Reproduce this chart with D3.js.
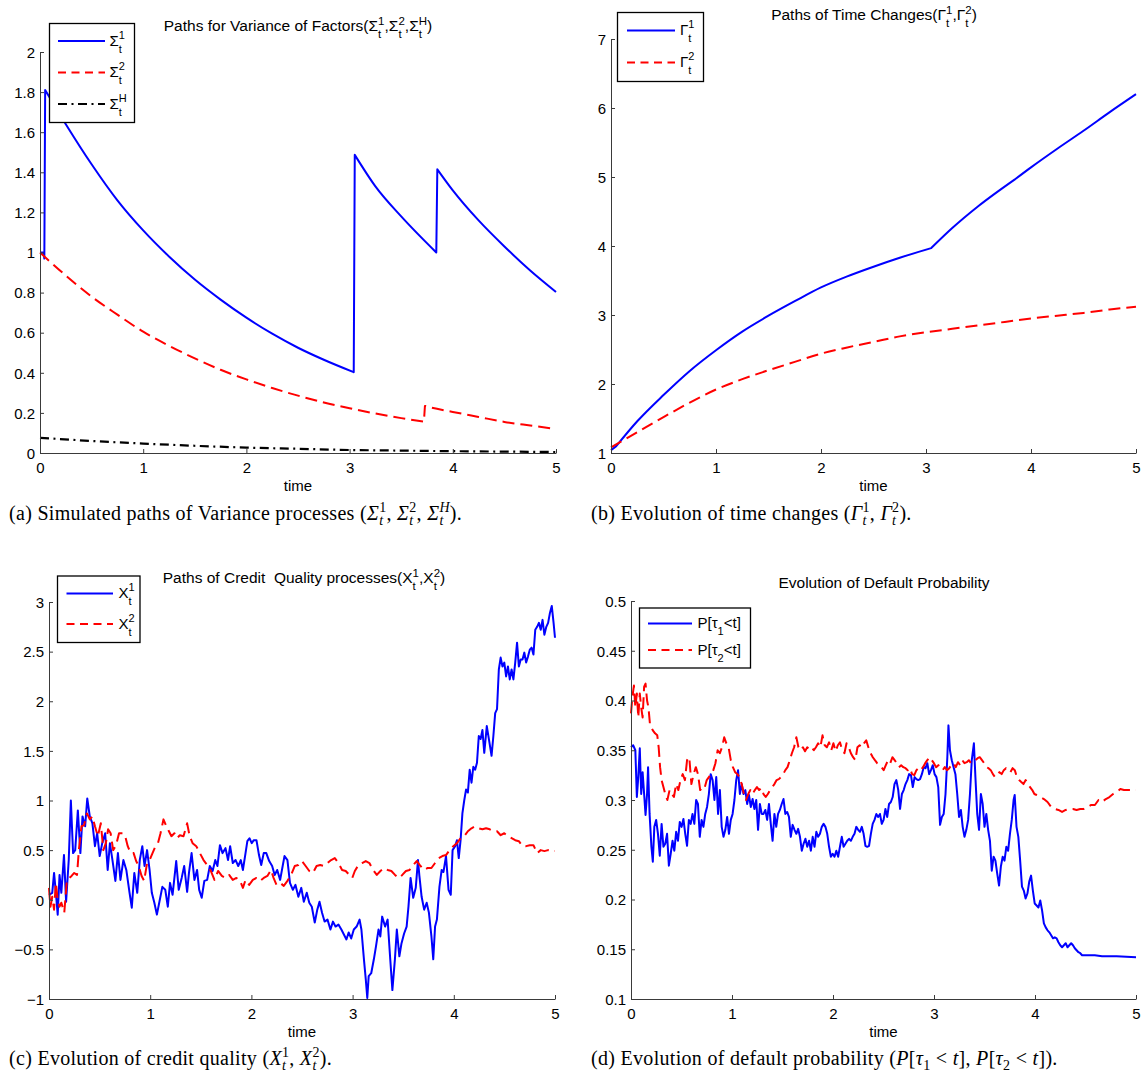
<!DOCTYPE html>
<html><head><meta charset="utf-8">
<script src="https://cdn.jsdelivr.net/npm/d3@7"></script>
<style>
html,body{margin:0;padding:0;background:#fff;}
svg{display:block;}
text{white-space:pre;}
</style></head><body>
<svg id="fig" width="1142" height="1074"></svg>
<script>
// ---------------- DATA ----------------
const xTicks = [0, 1, 2, 3, 4, 5];
const aYTicks = [0, 0.2, 0.4, 0.6, 0.8, 1, 1.2, 1.4, 1.6, 1.8, 2];
const bYTicks = [1, 2, 3, 4, 5, 6, 7];
const cYTicks = [-1, -0.5, 0, 0.5, 1, 1.5, 2, 2.5, 3];
const dYTicks = [0.1, 0.15, 0.2, 0.25, 0.3, 0.35, 0.4, 0.45, 0.5];

// (a) variance processes  [time, value]
const sigma1 = [[0,1.0],[0.035,1.0],[0.042,0.97],[0.05,1.81],[0.25,1.64],[0.5,1.44],[0.75,1.26],[1.0,1.11],[1.25,0.98],[1.5,0.865],[1.75,0.765],[2.0,0.675],[2.25,0.595],[2.5,0.525],[2.75,0.465],[3.04,0.403],[3.05,1.487],[3.25,1.33],[3.5,1.18],[3.84,1.0],[3.85,1.415],[4.0,1.31],[4.25,1.16],[4.5,1.03],[4.75,0.91],[5.0,0.803]];
const sigma2 = [[0,1.0],[0.25,0.885],[0.5,0.78],[0.75,0.69],[1.0,0.605],[1.25,0.535],[1.5,0.472],[1.75,0.415],[2.0,0.367],[2.25,0.324],[2.5,0.286],[2.75,0.252],[3.0,0.223],[3.25,0.197],[3.5,0.174],[3.72,0.156],[3.73,0.235],[3.75,0.232],[4.0,0.205],[4.25,0.18],[4.5,0.155],[4.75,0.137],[5.0,0.12]];
const sigmaH = [[0,0.076],[0.5,0.06],[1,0.047],[1.5,0.036],[2,0.027],[2.5,0.021],[3,0.015],[3.5,0.012],[4,0.009],[4.5,0.007],[5,0.005]];

// (b) time changes
const gamma1 = [[0,1.04],[0.05,1.1],[0.25,1.46],[0.5,1.84],[0.75,2.19],[1.0,2.49],[1.25,2.76],[1.5,2.99],[1.75,3.2],[2.0,3.4],[2.25,3.56],[2.5,3.7],[2.75,3.83],[3.05,3.97],[3.25,4.26],[3.5,4.58],[3.85,4.97],[4.0,5.14],[4.25,5.41],[4.5,5.67],[4.75,5.94],[5.0,6.2]];
const gamma1Kinks = [0.05, 3.05, 3.85];
const gamma2 = [[0,1.08],[0.25,1.3],[0.5,1.52],[0.75,1.73],[1.0,1.92],[1.25,2.07],[1.5,2.2],[1.75,2.32],[2.0,2.44],[2.25,2.53],[2.5,2.61],[2.75,2.69],[3.0,2.75],[3.25,2.8],[3.5,2.85],[3.75,2.9],[4.0,2.95],[4.25,2.99],[4.5,3.03],[4.75,3.08],[5.0,3.12]];

// (c) credit quality
const credit1 = [[0,0.05],[0.032,0.07],[0.05,0.27],[0.068,0.07],[0.086,-0.15],[0.104,0.25],[0.122,0.07],[0.148,0.45],[0.169,-0.02],[0.195,0.40],[0.216,1.00],[0.238,0.47],[0.259,0.50],[0.285,0.90],[0.31,0.47],[0.331,0.84],[0.357,0.74],[0.378,1.02],[0.403,0.84],[0.429,0.77],[0.454,0.54],[0.476,0.67],[0.501,0.44],[0.526,0.57],[0.555,0.67],[0.58,0.30],[0.602,0.57],[0.627,0.40],[0.656,0.19],[0.681,0.47],[0.706,0.20],[0.735,0.40],[0.764,0.30],[0.796,0.07],[0.818,-0.08],[0.843,0.27],[0.872,0.07],[0.897,0.40],[0.922,0.54],[0.944,0.34],[0.969,0.50],[0.994,0.30],[1.016,0.07],[1.041,-0.03],[1.066,-0.15],[1.095,0.00],[1.12,0.13],[1.149,0.10],[1.174,-0.07],[1.196,0.17],[1.221,0.05],[1.257,0.39],[1.282,0.10],[1.311,0.22],[1.336,0.34],[1.365,0.08],[1.383,0.27],[1.409,0.47],[1.437,0.20],[1.463,0.30],[1.484,0.10],[1.509,0.02],[1.535,0.19],[1.563,0.20],[1.589,0.34],[1.617,0.29],[1.643,0.40],[1.664,0.34],[1.689,0.55],[1.715,0.47],[1.744,0.52],[1.769,0.40],[1.79,0.54],[1.816,0.37],[1.844,0.40],[1.87,0.34],[1.895,0.40],[1.916,0.30],[1.942,0.47],[1.96,0.59],[1.981,0.62],[2.003,0.57],[2.024,0.60],[2.05,0.60],[2.075,0.45],[2.097,0.35],[2.122,0.47],[2.147,0.47],[2.176,0.39],[2.205,0.34],[2.23,0.25],[2.255,0.30],[2.284,0.20],[2.309,0.34],[2.327,0.44],[2.356,0.40],[2.381,0.17],[2.41,0.10],[2.435,0.15],[2.464,0.03],[2.493,0.12],[2.518,-0.02],[2.547,0.07],[2.572,-0.03],[2.597,-0.07],[2.626,-0.23],[2.651,-0.10],[2.673,-0.02],[2.698,-0.13],[2.723,-0.22],[2.752,-0.20],[2.781,-0.30],[2.806,-0.22],[2.831,-0.27],[2.86,-0.25],[2.889,-0.30],[2.914,-0.35],[2.939,-0.40],[2.961,-0.33],[2.986,-0.39],[3.012,-0.30],[3.04,-0.27],[3.069,-0.20],[3.087,-0.30],[3.112,-0.60],[3.13,-0.80],[3.145,-0.99],[3.159,-0.77],[3.184,-0.74],[3.21,-0.60],[3.231,-0.47],[3.256,-0.30],[3.274,-0.37],[3.292,-0.17],[3.321,-0.27],[3.346,-0.20],[3.372,-0.60],[3.393,-0.91],[3.418,-0.60],[3.437,-0.30],[3.462,-0.57],[3.483,-0.44],[3.509,-0.34],[3.534,-0.27],[3.552,-0.07],[3.573,0.22],[3.599,0.02],[3.624,0.12],[3.646,0.40],[3.66,0.24],[3.682,0.03],[3.707,-0.10],[3.732,-0.03],[3.754,-0.13],[3.779,-0.37],[3.797,-0.60],[3.815,-0.27],[3.833,-0.20],[3.858,0.13],[3.88,0.30],[3.898,0.28],[3.923,0.44],[3.948,0.10],[3.97,0.05],[3.988,0.50],[4.013,0.54],[4.031,0.60],[4.049,0.42],[4.067,0.60],[4.085,0.87],[4.103,1.00],[4.121,1.11],[4.139,1.08],[4.157,1.31],[4.175,1.18],[4.193,1.34],[4.211,1.31],[4.229,1.38],[4.247,1.65],[4.265,1.62],[4.283,1.71],[4.301,1.48],[4.326,1.75],[4.348,1.61],[4.373,1.45],[4.391,1.65],[4.409,1.88],[4.427,1.92],[4.445,2.32],[4.463,2.44],[4.481,2.35],[4.499,2.39],[4.517,2.25],[4.535,2.35],[4.553,2.22],[4.571,2.32],[4.589,2.22],[4.607,2.39],[4.625,2.59],[4.643,2.35],[4.661,2.42],[4.679,2.42],[4.697,2.49],[4.715,2.39],[4.733,2.45],[4.751,2.52],[4.769,2.54],[4.787,2.47],[4.805,2.72],[4.823,2.75],[4.841,2.79],[4.859,2.72],[4.877,2.82],[4.895,2.67],[4.914,2.75],[4.932,2.79],[4.95,2.89],[4.968,2.96],[4.986,2.79],[5.0,2.64]];
const credit2 = [[0,0.12],[0.014,-0.07],[0.032,0.03],[0.05,-0.10],[0.068,0.17],[0.086,0.00],[0.104,-0.07],[0.122,-0.03],[0.151,-0.13],[0.177,0.20],[0.202,0.22],[0.223,0.24],[0.249,0.27],[0.277,0.25],[0.295,0.50],[0.321,0.74],[0.346,0.75],[0.375,0.87],[0.403,0.81],[0.429,0.84],[0.454,0.74],[0.483,0.64],[0.512,0.77],[0.537,0.50],[0.562,0.57],[0.584,0.71],[0.609,0.67],[0.634,0.50],[0.663,0.55],[0.692,0.67],[0.728,0.67],[0.753,0.64],[0.778,0.54],[0.807,0.47],[0.836,0.47],[0.861,0.39],[0.886,0.34],[0.915,0.24],[0.94,0.19],[0.969,0.37],[0.994,0.40],[1.023,0.47],[1.052,0.54],[1.077,0.57],[1.102,0.67],[1.131,0.81],[1.16,0.74],[1.185,0.69],[1.21,0.64],[1.239,0.67],[1.264,0.62],[1.293,0.65],[1.329,0.64],[1.365,0.77],[1.39,0.64],[1.419,0.57],[1.455,0.54],[1.491,0.47],[1.527,0.40],[1.563,0.35],[1.599,0.29],[1.635,0.20],[1.671,0.29],[1.708,0.24],[1.744,0.22],[1.78,0.25],[1.816,0.20],[1.852,0.22],[1.888,0.19],[1.916,0.12],[1.942,0.20],[1.978,0.15],[2.014,0.20],[2.05,0.22],[2.086,0.19],[2.122,0.22],[2.158,0.24],[2.194,0.30],[2.219,0.22],[2.248,0.15],[2.284,0.17],[2.32,0.14],[2.356,0.19],[2.392,0.25],[2.428,0.34],[2.464,0.35],[2.5,0.39],[2.536,0.34],[2.572,0.29],[2.608,0.27],[2.644,0.34],[2.68,0.35],[2.716,0.34],[2.752,0.37],[2.788,0.40],[2.824,0.42],[2.86,0.37],[2.896,0.30],[2.932,0.29],[2.968,0.25],[2.997,0.22],[3.022,0.29],[3.058,0.35],[3.094,0.37],[3.13,0.39],[3.166,0.37],[3.202,0.30],[3.239,0.25],[3.275,0.29],[3.311,0.32],[3.347,0.30],[3.383,0.29],[3.419,0.25],[3.455,0.22],[3.491,0.25],[3.527,0.29],[3.563,0.30],[3.599,0.35],[3.635,0.39],[3.671,0.34],[3.707,0.30],[3.743,0.32],[3.779,0.32],[3.815,0.37],[3.851,0.42],[3.887,0.44],[3.923,0.45],[3.959,0.50],[3.995,0.54],[4.031,0.57],[4.067,0.62],[4.103,0.64],[4.139,0.69],[4.175,0.72],[4.211,0.74],[4.247,0.72],[4.283,0.71],[4.319,0.72],[4.355,0.71],[4.391,0.69],[4.427,0.69],[4.463,0.65],[4.499,0.67],[4.535,0.64],[4.571,0.62],[4.607,0.60],[4.643,0.59],[4.679,0.54],[4.715,0.54],[4.751,0.55],[4.787,0.55],[4.823,0.47],[4.859,0.50],[4.895,0.49],[4.931,0.50],[4.968,0.49],[5.0,0.49]];

// (d) default probability
const default1 = [[0,0.353],[0.022,0.355],[0.043,0.35],[0.058,0.303],[0.072,0.323],[0.087,0.352],[0.101,0.306],[0.115,0.328],[0.13,0.306],[0.144,0.285],[0.159,0.306],[0.169,0.333],[0.184,0.286],[0.202,0.253],[0.216,0.238],[0.231,0.273],[0.249,0.28],[0.267,0.266],[0.285,0.244],[0.303,0.276],[0.321,0.253],[0.339,0.256],[0.357,0.266],[0.375,0.234],[0.393,0.246],[0.411,0.259],[0.429,0.249],[0.447,0.268],[0.465,0.259],[0.483,0.278],[0.501,0.273],[0.519,0.281],[0.537,0.266],[0.555,0.254],[0.573,0.28],[0.591,0.276],[0.609,0.286],[0.627,0.276],[0.645,0.3],[0.663,0.296],[0.681,0.263],[0.699,0.28],[0.717,0.273],[0.735,0.286],[0.753,0.293],[0.771,0.306],[0.789,0.326],[0.808,0.32],[0.826,0.3],[0.844,0.323],[0.862,0.286],[0.88,0.31],[0.898,0.273],[0.916,0.263],[0.934,0.27],[0.952,0.283],[0.97,0.266],[0.988,0.28],[1.006,0.286],[1.024,0.3],[1.042,0.32],[1.06,0.33],[1.078,0.306],[1.096,0.316],[1.114,0.306],[1.132,0.31],[1.15,0.296],[1.168,0.305],[1.186,0.293],[1.204,0.301],[1.222,0.291],[1.24,0.3],[1.258,0.27],[1.276,0.296],[1.294,0.286],[1.312,0.286],[1.33,0.29],[1.348,0.28],[1.366,0.296],[1.384,0.276],[1.402,0.259],[1.42,0.286],[1.438,0.273],[1.456,0.286],[1.474,0.29],[1.492,0.296],[1.51,0.301],[1.528,0.286],[1.546,0.288],[1.564,0.283],[1.582,0.263],[1.6,0.275],[1.619,0.27],[1.637,0.266],[1.655,0.271],[1.673,0.263],[1.691,0.249],[1.709,0.256],[1.727,0.261],[1.745,0.253],[1.763,0.259],[1.781,0.249],[1.799,0.263],[1.817,0.253],[1.835,0.268],[1.853,0.263],[1.871,0.266],[1.889,0.273],[1.907,0.276],[1.925,0.273],[1.943,0.266],[1.961,0.253],[1.979,0.243],[1.997,0.246],[2.015,0.243],[2.033,0.249],[2.051,0.243],[2.069,0.253],[2.087,0.263],[2.105,0.253],[2.123,0.256],[2.141,0.259],[2.159,0.261],[2.177,0.259],[2.195,0.263],[2.213,0.266],[2.231,0.273],[2.249,0.27],[2.267,0.268],[2.285,0.273],[2.303,0.266],[2.321,0.254],[2.339,0.253],[2.357,0.254],[2.375,0.266],[2.393,0.276],[2.411,0.28],[2.429,0.286],[2.447,0.283],[2.465,0.286],[2.483,0.276],[2.501,0.28],[2.519,0.291],[2.537,0.283],[2.555,0.296],[2.573,0.298],[2.591,0.303],[2.609,0.316],[2.627,0.32],[2.646,0.31],[2.664,0.291],[2.682,0.306],[2.7,0.31],[2.718,0.316],[2.736,0.32],[2.754,0.326],[2.772,0.325],[2.79,0.313],[2.808,0.323],[2.826,0.321],[2.844,0.32],[2.862,0.321],[2.88,0.326],[2.898,0.333],[2.916,0.332],[2.934,0.337],[2.952,0.326],[2.97,0.33],[2.988,0.335],[3.006,0.326],[3.024,0.323],[3.042,0.313],[3.06,0.275],[3.078,0.283],[3.096,0.286],[3.114,0.306],[3.132,0.343],[3.143,0.375],[3.158,0.35],[3.176,0.34],[3.194,0.333],[3.212,0.326],[3.23,0.306],[3.248,0.283],[3.266,0.29],[3.284,0.273],[3.302,0.263],[3.32,0.27],[3.338,0.28],[3.356,0.306],[3.374,0.34],[3.395,0.357],[3.41,0.323],[3.428,0.286],[3.446,0.27],[3.464,0.306],[3.482,0.296],[3.5,0.273],[3.518,0.286],[3.536,0.27],[3.554,0.259],[3.572,0.229],[3.59,0.243],[3.608,0.239],[3.626,0.226],[3.644,0.214],[3.662,0.233],[3.68,0.243],[3.698,0.239],[3.716,0.253],[3.734,0.249],[3.752,0.266],[3.77,0.28],[3.788,0.3],[3.799,0.305],[3.817,0.273],[3.835,0.263],[3.853,0.239],[3.871,0.213],[3.889,0.209],[3.907,0.201],[3.925,0.206],[3.943,0.218],[3.961,0.224],[3.979,0.209],[3.997,0.196],[4.016,0.194],[4.034,0.192],[4.052,0.199],[4.07,0.189],[4.088,0.176],[4.106,0.172],[4.124,0.169],[4.142,0.167],[4.16,0.164],[4.178,0.161],[4.196,0.162],[4.214,0.161],[4.232,0.157],[4.25,0.154],[4.268,0.152],[4.286,0.154],[4.304,0.156],[4.322,0.152],[4.34,0.154],[4.358,0.156],[4.376,0.154],[4.394,0.151],[4.412,0.149],[4.43,0.147],[4.448,0.146],[4.466,0.144],[4.52,0.144],[4.592,0.144],[4.664,0.143],[4.736,0.143],[4.808,0.143],[5.0,0.142]];
const default2 = [[0,0.387],[0.014,0.404],[0.029,0.415],[0.043,0.393],[0.058,0.407],[0.072,0.383],[0.087,0.407],[0.101,0.393],[0.115,0.383],[0.13,0.414],[0.144,0.417],[0.159,0.4],[0.173,0.393],[0.187,0.377],[0.202,0.373],[0.216,0.37],[0.238,0.367],[0.26,0.365],[0.274,0.353],[0.288,0.333],[0.303,0.32],[0.321,0.313],[0.339,0.306],[0.36,0.3],[0.382,0.31],[0.404,0.306],[0.425,0.303],[0.447,0.316],[0.469,0.31],[0.49,0.32],[0.512,0.326],[0.534,0.32],[0.555,0.34],[0.577,0.343],[0.598,0.316],[0.62,0.326],[0.642,0.333],[0.663,0.326],[0.685,0.31],[0.707,0.313],[0.728,0.312],[0.75,0.32],[0.771,0.323],[0.793,0.326],[0.815,0.33],[0.836,0.337],[0.858,0.35],[0.88,0.347],[0.901,0.353],[0.923,0.363],[0.944,0.357],[0.966,0.353],[0.988,0.34],[1.009,0.333],[1.031,0.328],[1.053,0.326],[1.074,0.323],[1.096,0.316],[1.118,0.306],[1.139,0.3],[1.161,0.306],[1.182,0.31],[1.204,0.306],[1.226,0.31],[1.247,0.313],[1.269,0.31],[1.291,0.312],[1.312,0.306],[1.334,0.303],[1.355,0.306],[1.377,0.31],[1.399,0.313],[1.42,0.316],[1.442,0.32],[1.464,0.321],[1.485,0.323],[1.507,0.326],[1.528,0.33],[1.55,0.333],[1.572,0.34],[1.593,0.347],[1.615,0.353],[1.637,0.363],[1.658,0.353],[1.68,0.35],[1.702,0.353],[1.723,0.349],[1.745,0.353],[1.766,0.351],[1.788,0.353],[1.81,0.35],[1.831,0.353],[1.853,0.357],[1.875,0.353],[1.896,0.365],[1.918,0.355],[1.939,0.353],[1.961,0.358],[1.983,0.35],[2.004,0.357],[2.026,0.349],[2.048,0.355],[2.069,0.358],[2.091,0.35],[2.113,0.347],[2.134,0.357],[2.156,0.353],[2.177,0.347],[2.199,0.343],[2.221,0.34],[2.242,0.353],[2.264,0.355],[2.286,0.353],[2.307,0.357],[2.329,0.36],[2.35,0.353],[2.372,0.347],[2.394,0.343],[2.415,0.34],[2.437,0.337],[2.459,0.335],[2.48,0.333],[2.502,0.33],[2.523,0.335],[2.545,0.34],[2.567,0.337],[2.588,0.343],[2.61,0.34],[2.632,0.337],[2.653,0.333],[2.675,0.335],[2.696,0.333],[2.718,0.332],[2.74,0.33],[2.761,0.332],[2.783,0.326],[2.805,0.325],[2.826,0.33],[2.848,0.332],[2.869,0.33],[2.891,0.333],[2.913,0.337],[2.934,0.34],[2.956,0.343],[2.978,0.34],[2.999,0.337],[3.021,0.333],[3.043,0.335],[3.064,0.332],[3.086,0.33],[3.107,0.333],[3.129,0.33],[3.151,0.332],[3.172,0.335],[3.194,0.337],[3.216,0.333],[3.237,0.338],[3.259,0.335],[3.28,0.34],[3.302,0.337],[3.324,0.338],[3.345,0.34],[3.367,0.337],[3.389,0.338],[3.41,0.34],[3.432,0.342],[3.453,0.343],[3.475,0.34],[3.497,0.337],[3.518,0.333],[3.54,0.332],[3.562,0.33],[3.583,0.326],[3.605,0.323],[3.626,0.326],[3.648,0.328],[3.67,0.326],[3.691,0.33],[3.713,0.332],[3.735,0.33],[3.756,0.328],[3.778,0.332],[3.8,0.33],[3.821,0.323],[3.843,0.32],[3.864,0.318],[3.886,0.316],[3.908,0.32],[3.929,0.316],[3.951,0.313],[3.973,0.31],[3.994,0.306],[4.016,0.305],[4.052,0.303],[4.088,0.301],[4.124,0.298],[4.16,0.293],[4.196,0.291],[4.232,0.29],[4.268,0.288],[4.304,0.29],[4.34,0.291],[4.376,0.291],[4.412,0.29],[4.448,0.291],[4.484,0.291],[4.52,0.293],[4.557,0.295],[4.593,0.295],[4.629,0.3],[4.665,0.298],[4.701,0.301],[4.737,0.303],[4.773,0.306],[4.809,0.308],[4.845,0.311],[4.881,0.31],[4.917,0.31],[4.953,0.31],[5.0,0.31]];

// ---------------- DRAWING ----------------
const SANS = "'Liberation Sans', Arial, Helvetica, sans-serif";
const SERIF = "'Liberation Serif', 'Times New Roman', serif";
const BLUE = "#0000ff", RED = "#ff0000", BLACK = "#000000";
const svg = d3.select('#fig');
svg.append('rect').attr('width', 1142).attr('height', 1074).attr('fill', '#fff');

function rich(parent, parts, o) {
  const g = parent.append('g');
  let cx = 0;
  const add = (str, x, y, size, it) => {
    const t = g.append('text').attr('x', x).attr('y', y)
      .attr('font-family', o.family).attr('font-size', size)
      .attr('font-style', it ? 'italic' : 'normal')
      .attr('letter-spacing', o.ls || null)
      .attr('fill', '#000').text(str);
    return t.node().getComputedTextLength();
  };
  for (const p of parts) {
    if (p.dx) cx += p.dx;
    if (p.s) cx += add(p.s, cx, 0, o.size, p.it);
    let w = 0;
    if (p.sup) w = Math.max(w, add(p.sup, cx, o.supDy, o.small, p.supIt));
    if (p.sub) w = Math.max(w, add(p.sub, cx, o.subDy, o.small, p.subIt));
    cx += w;
  }
  let x0 = o.x;
  if (o.anchor === 'middle') x0 -= cx / 2;
  g.attr('transform', `translate(${x0},${o.y})`);
  return cx;
}

const fmtTick = d => String(+d.toFixed(2)).replace('-', '\u2212');

// smooth path split at jumps (samples very close in time) and at listed kink times
function segmentedPath(data, x, y, curve, kinks) {
  kinks = kinks || [];
  const segs = [[data[0]]];
  for (let i = 1; i < data.length; i++) {
    if (data[i][0] - data[i - 1][0] < 0.012) segs.push([data[i]]);
    else segs[segs.length - 1].push(data[i]);
    if (kinks.includes(data[i][0]) && i < data.length - 1) segs.push([data[i]]);
  }
  const ln = d3.line().x(d => x(d[0])).y(d => y(d[1])).curve(curve);
  return segs.filter(s => s.length).map((s, i) => {
    const p = s.length > 1 ? ln(s) : `M${x(s[0][0])},${y(s[0][1])}`;
    return i === 0 ? p : 'L' + p.slice(1);
  }).join('');
}

function panel(cfg) {
  const x = d3.scaleLinear().domain([0, 5]).range([cfg.x0, cfg.x1]);
  const y = d3.scaleLinear().domain(cfg.ylim).range([cfg.yb, cfg.yt]);
  const g = svg.append('g');

  cfg.series.forEach(s => {
    const d = s.smooth ? segmentedPath(s.data, x, y, d3.curveMonotoneX, s.kinks)
      : d3.line().x(d => x(d[0])).y(d => y(d[1]))(s.data);
    g.append('path').attr('d', d)
      .attr('fill', 'none').attr('stroke', s.color).attr('stroke-width', s.width)
      .attr('stroke-dasharray', s.dash || null)
      .attr('stroke-linejoin', 'round').attr('stroke-linecap', 'butt');
  });

  const xa = g.append('g').attr('transform', `translate(0,${cfg.yb})`)
    .call(d3.axisBottom(x).tickValues(xTicks).tickSizeInner(-4).tickSizeOuter(0).tickPadding(0).tickFormat(fmtTick));
  const ya = g.append('g').attr('transform', `translate(${cfg.x0},0)`)
    .call(d3.axisLeft(y).tickValues(cfg.yTicks).tickSizeInner(-4).tickSizeOuter(0).tickPadding(5).tickFormat(fmtTick));
  [xa, ya].forEach(a => {
    a.select('.domain').attr('stroke', '#3a3a3a').attr('stroke-width', 1);
    a.selectAll('.tick line').attr('stroke', '#3a3a3a').attr('stroke-width', 1);
    a.selectAll('.tick text').attr('font-family', SANS).attr('font-size', 15).attr('fill', '#000');
  });
  xa.selectAll('.tick text').attr('dy', null).attr('y', 20);
  ya.selectAll('.tick text').attr('dy', '0.35em');

  g.append('text').attr('x', (cfg.x0 + cfg.x1) / 2).attr('y', cfg.timeY)
    .attr('text-anchor', 'middle').attr('font-family', SANS).attr('font-size', 15).text('time');

  // title
  rich(g, cfg.title, { x: cfg.titleX, y: cfg.titleY, anchor: 'middle', family: SANS, size: 15.5, small: 11.5, supDy: -6, subDy: 7 });

  // legend
  const L = cfg.legend;
  g.append('rect').attr('x', L.x0 + 0.5).attr('y', L.y0 + 0.5).attr('width', L.x1 - L.x0).attr('height', L.y1 - L.y0)
    .attr('fill', '#fff').attr('stroke', '#000').attr('stroke-width', 1.3);
  L.items.forEach((it, i) => {
    const s = cfg.series[i];
    const ly = L.ys[i];
    g.append('line').attr('x1', L.lx0).attr('x2', L.lx1).attr('y1', ly).attr('y2', ly)
      .attr('stroke', s.color).attr('stroke-width', s.width).attr('stroke-dasharray', s.ldash || null);
    rich(g, it, { x: L.tx, y: ly + 4.5, anchor: 'start', family: SANS, size: 15, small: 11, supDy: -7, subDy: 7 });
  });

  // caption
  rich(svg, cfg.caption, { x: cfg.capX, y: cfg.capY, anchor: 'start', family: SERIF, size: 20, small: 14, supDy: -8, subDy: 5, ls: '0.3px' });
}

const DASH = '12,6', LDASH = '8,5.5', DASHDOT = '9,4.5,2,4.5';

panel({
  x0: 40, x1: 556, yb: 453, yt: 52, ylim: [0, 2], yTicks: aYTicks, timeY: 491,
  series: [
    { data: sigma1, color: BLUE, width: 2, smooth: true },
    { data: sigma2, color: RED, width: 2, dash: DASH, ldash: LDASH, smooth: true },
    { data: sigmaH, color: BLACK, width: 2.2, dash: DASHDOT, ldash: DASHDOT, smooth: true }
  ],
  title: [{ s: 'Paths for Variance of Factors(' }, { s: '\u03A3', sup: '1', sub: 't' }, { s: ',' }, { s: '\u03A3', sup: '2', sub: 't' }, { s: ',' }, { s: '\u03A3', sup: 'H', sub: 't' }, { s: ')' }],
  titleX: 298, titleY: 31,
  legend: { x0: 49, x1: 134, y0: 23, y1: 122, lx0: 58, lx1: 105, tx: 109.5, ys: [41, 72.5, 104],
    items: [[{ s: '\u03A3', sup: '1', sub: 't' }], [{ s: '\u03A3', sup: '2', sub: 't' }], [{ s: '\u03A3', sup: 'H', sub: 't' }]] },
  caption: [{ s: '(a) Simulated paths of Variance processes (' }, { s: '\u03A3', it: true, sup: '1', sub: 't', subIt: true }, { s: ', ' }, { s: '\u03A3', it: true, sup: '2', sub: 't', subIt: true }, { s: ', ' }, { s: '\u03A3', it: true, sup: 'H', supIt: true, sub: 't', subIt: true }, { s: ').' }],
  capX: 9, capY: 520
});

panel({
  x0: 611, x1: 1136, yb: 453, yt: 39, ylim: [1, 7], yTicks: bYTicks, timeY: 491,
  series: [
    { data: gamma1, color: BLUE, width: 2, smooth: true, kinks: gamma1Kinks },
    { data: gamma2, color: RED, width: 2, dash: DASH, ldash: LDASH, smooth: true }
  ],
  title: [{ s: 'Paths of Time Changes(' }, { s: '\u0393', sup: '1', sub: 't' }, { s: ',' }, { s: '\u0393', sup: '2', sub: 't' }, { s: ')' }],
  titleX: 874, titleY: 20,
  legend: { x0: 617, x1: 703, y0: 12, y1: 81, lx0: 627, lx1: 675, tx: 680, ys: [30.5, 62.5],
    items: [[{ s: '\u0393', sup: '1', sub: 't' }], [{ s: '\u0393', sup: '2', sub: 't' }]] },
  caption: [{ s: '(b) Evolution of time changes (' }, { s: '\u0393', it: true, sup: '1', sub: 't', subIt: true }, { s: ', ' }, { s: '\u0393', it: true, sup: '2', sub: 't', subIt: true }, { s: ').' }],
  capX: 591, capY: 520
});

panel({
  x0: 49, x1: 555, yb: 999, yt: 602, ylim: [-1, 3], yTicks: cYTicks, timeY: 1037,
  series: [
    { data: credit1, color: BLUE, width: 2 },
    { data: credit2, color: RED, width: 2, dash: DASH, ldash: LDASH }
  ],
  title: [{ s: 'Paths of Credit  Quality processes(' }, { s: 'X', sup: '1', sub: 't' }, { s: ',' }, { s: 'X', sup: '2', sub: 't' }, { s: ')' }],
  titleX: 304, titleY: 583,
  legend: { x0: 57, x1: 139.5, y0: 575.5, y1: 642, lx0: 66.5, lx1: 113, tx: 118.5, ys: [593.5, 624],
    items: [[{ s: 'X', sup: '1', sub: 't' }], [{ s: 'X', sup: '2', sub: 't' }]] },
  caption: [{ s: '(c) Evolution of credit quality (' }, { s: 'X', it: true, sup: '1', sub: 't', subIt: true }, { s: ', ' }, { s: 'X', it: true, sup: '2', sub: 't', subIt: true }, { s: ').' }],
  capX: 9, capY: 1065
});

panel({
  x0: 631, x1: 1136, yb: 999, yt: 601, ylim: [0.1, 0.5], yTicks: dYTicks, timeY: 1037,
  series: [
    { data: default1, color: BLUE, width: 2 },
    { data: default2, color: RED, width: 2, dash: DASH, ldash: LDASH }
  ],
  title: [{ s: 'Evolution of Default Probability' }],
  titleX: 884, titleY: 588,
  legend: { x0: 639, x1: 750, y0: 607.5, y1: 667.5, lx0: 648, lx1: 692, tx: 697.5, ys: [623.5, 650],
    items: [[{ s: 'P[\u03C4', sub: '1' }, { s: '<t]' }], [{ s: 'P[\u03C4', sub: '2' }, { s: '<t]' }]] },
  caption: [{ s: '(d) Evolution of default probability (' }, { s: 'P', it: true }, { s: '[' }, { s: '\u03C4', it: true, sub: '1' }, { s: ' < ' }, { s: 't', it: true }, { s: '], ' }, { s: 'P', it: true }, { s: '[' }, { s: '\u03C4', it: true, sub: '2' }, { s: ' < ' }, { s: 't', it: true }, { s: ']).' }],
  capX: 591, capY: 1065
});
</script>
</body></html>
